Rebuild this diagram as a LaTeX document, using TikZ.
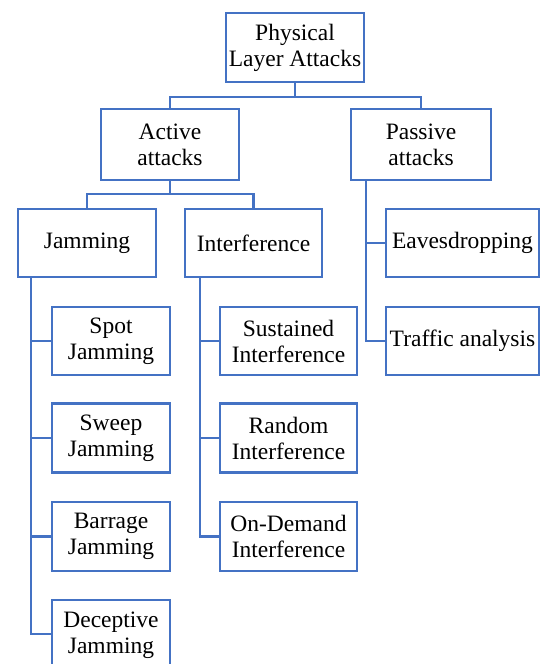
\documentclass[tikz,border=0pt]{standalone}
\usepackage{fontspec}
\setmainfont{Liberation Serif}
\definecolor{boxblue}{RGB}{68,114,196}
\begin{document}
\begin{tikzpicture}[x=1pt,y=1pt,
  box/.style={draw=boxblue, line width=2.6pt, rectangle, inner sep=0pt, align=center,
    font={\fontsize{23.5}{26}\selectfont}, text=black},
  conn/.style={draw=boxblue, line width=2.6pt}]
\useasboundingbox (0,0) rectangle (542,-664);
\clip (0,0) rectangle (542,-664);
% nodes
\node[box, minimum width=138, minimum height=69] (root) at (295,-47.5) {Physical\\Layer Attacks};
\node[box, minimum width=138, minimum height=71] (active) at (170,-144.5) {Active\\attacks};
\node[box, minimum width=140, minimum height=71] (passive) at (421,-144.5) {Passive\\attacks};
\node[box, minimum width=138, minimum height=68] (jam) at (87,-243) {Jamming};
\node[box, minimum width=137, minimum height=68] (intf) at (253.5,-243) {Interference};
\node[box, minimum width=153, minimum height=68] (eaves) at (462.5,-243) {Eavesdropping};
\node[box, minimum width=153, minimum height=68] (traffic) at (462.5,-341) {Traffic analysis};
\node[box, minimum width=118, minimum height=68] (spot) at (111,-341) {Spot\\Jamming};
\node[box, minimum width=118, minimum height=69] (sweep) at (111,-438) {Sweep\\Jamming};
\node[box, minimum width=118, minimum height=69] (barrage) at (111,-536.5) {Barrage\\Jamming};
\node[box, minimum width=118, minimum height=70] (decep) at (111,-635) {Deceptive\\Jamming};
\node[box, minimum width=137, minimum height=68] (sust) at (288.5,-341) {Sustained\\Interference};
\node[box, minimum width=137, minimum height=69] (rand) at (288.5,-438) {Random\\Interference};
\node[box, minimum width=137, minimum height=69] (ondem) at (288.5,-536.5) {On-Demand\\Interference};
% connector coordinates
\coordinate (r1) at (295,-97);
\coordinate (a1) at (170,-194);
\coordinate (jx) at (31,-277);
\coordinate (ix) at (200,-277);
\coordinate (px) at (366,-180);
% connectors
\draw[conn] (root.south) -- (r1);
\draw[conn] (active.north) |- (r1) -| (passive.north);
\draw[conn] (active.south) -- (a1);
\draw[conn] (jam.north) |- (a1) -| (intf.north);
\draw[conn] (jx) |- (spot.west);
\draw[conn] (jx) |- (sweep.west);
\draw[conn] (jx) |- (barrage.west);
\draw[conn] (jx) |- ([yshift=1pt]decep.west);
\draw[conn] (ix) |- (sust.west);
\draw[conn] (ix) |- (rand.west);
\draw[conn] (ix) |- (ondem.west);
\draw[conn] (px) |- (eaves.west);
\draw[conn] (px) |- (traffic.west);
\end{tikzpicture}
\end{document}
